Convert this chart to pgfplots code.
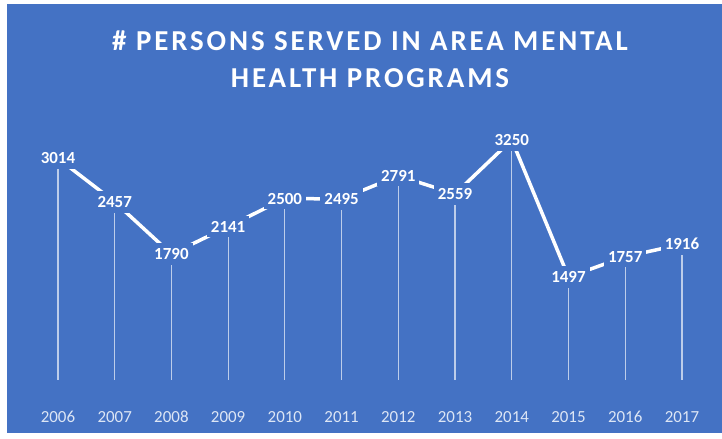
\documentclass[border=0pt]{standalone}
\usepackage{pgfplots}
\pgfplotsset{compat=1.18}
\usepackage{fontspec}
\setmainfont{Carlito}
\newfontfamily\titlefont{Carlito}[LetterSpace=10]
\definecolor{bg}{HTML}{4472C4}
\definecolor{ticktxt}{HTML}{DDE6F5}
\pgfplotstableread{
year value
2006 3014
2007 2457
2008 1790
2009 2141
2010 2500
2011 2495
2012 2791
2013 2559
2014 3250
2015 1497
2016 1757
2017 1916
}\datatable
\begin{document}
\begin{tikzpicture}
\fill[white] (0bp,0bp) rectangle (722bp,439bp);
\fill[bg] (7bp,6bp) rectangle (722bp,435bp);
\node[align=center, font=\titlefont\bfseries\fontsize{29}{37}\selectfont, text=white, inner sep=0pt] at (370bp,380bp) {\# PERSONS SERVED IN AREA MENTAL\\HEALTH PROGRAMS};
\begin{axis}[
  at={(29.6bp,59bp)}, anchor=south west,
  scale only axis, width=680.7bp, height=275.3bp,
  xmin=2005.5, xmax=2017.5, ymin=180, ymax=3700,
  axis line style={draw=none},
  ytick=\empty,
  xtick={2006,2007,2008,2009,2010,2011,2012,2013,2014,2015,2016,2017},
  xticklabels={2006,2007,2008,2009,2010,2011,2012,2013,2014,2015,2016,2017},
  major tick length=0pt,
  xticklabel style={font=\fontsize{17}{17}\selectfont, text=ticktxt, anchor=center, yshift=-37bp},
  /pgf/number format/.cd, 1000 sep={}, assume math mode=true, /pgfplots/.cd,
  clip=true,
]
\addplot[ycomb, draw=white, draw opacity=0.65, line width=1.2bp, mark=none] table[x=year,y=value] {\datatable};
\addplot[white, line width=3.5bp, mark=none, nodes near coords, nodes near coords align=center,
  every node near coord/.append style={anchor=center, font=\bfseries\fontsize{17}{17}\selectfont, text=white, fill=bg, inner xsep=4bp, inner ysep=5bp}]
  table[x=year,y=value] {\datatable};
\end{axis}
\end{tikzpicture}
\end{document}
